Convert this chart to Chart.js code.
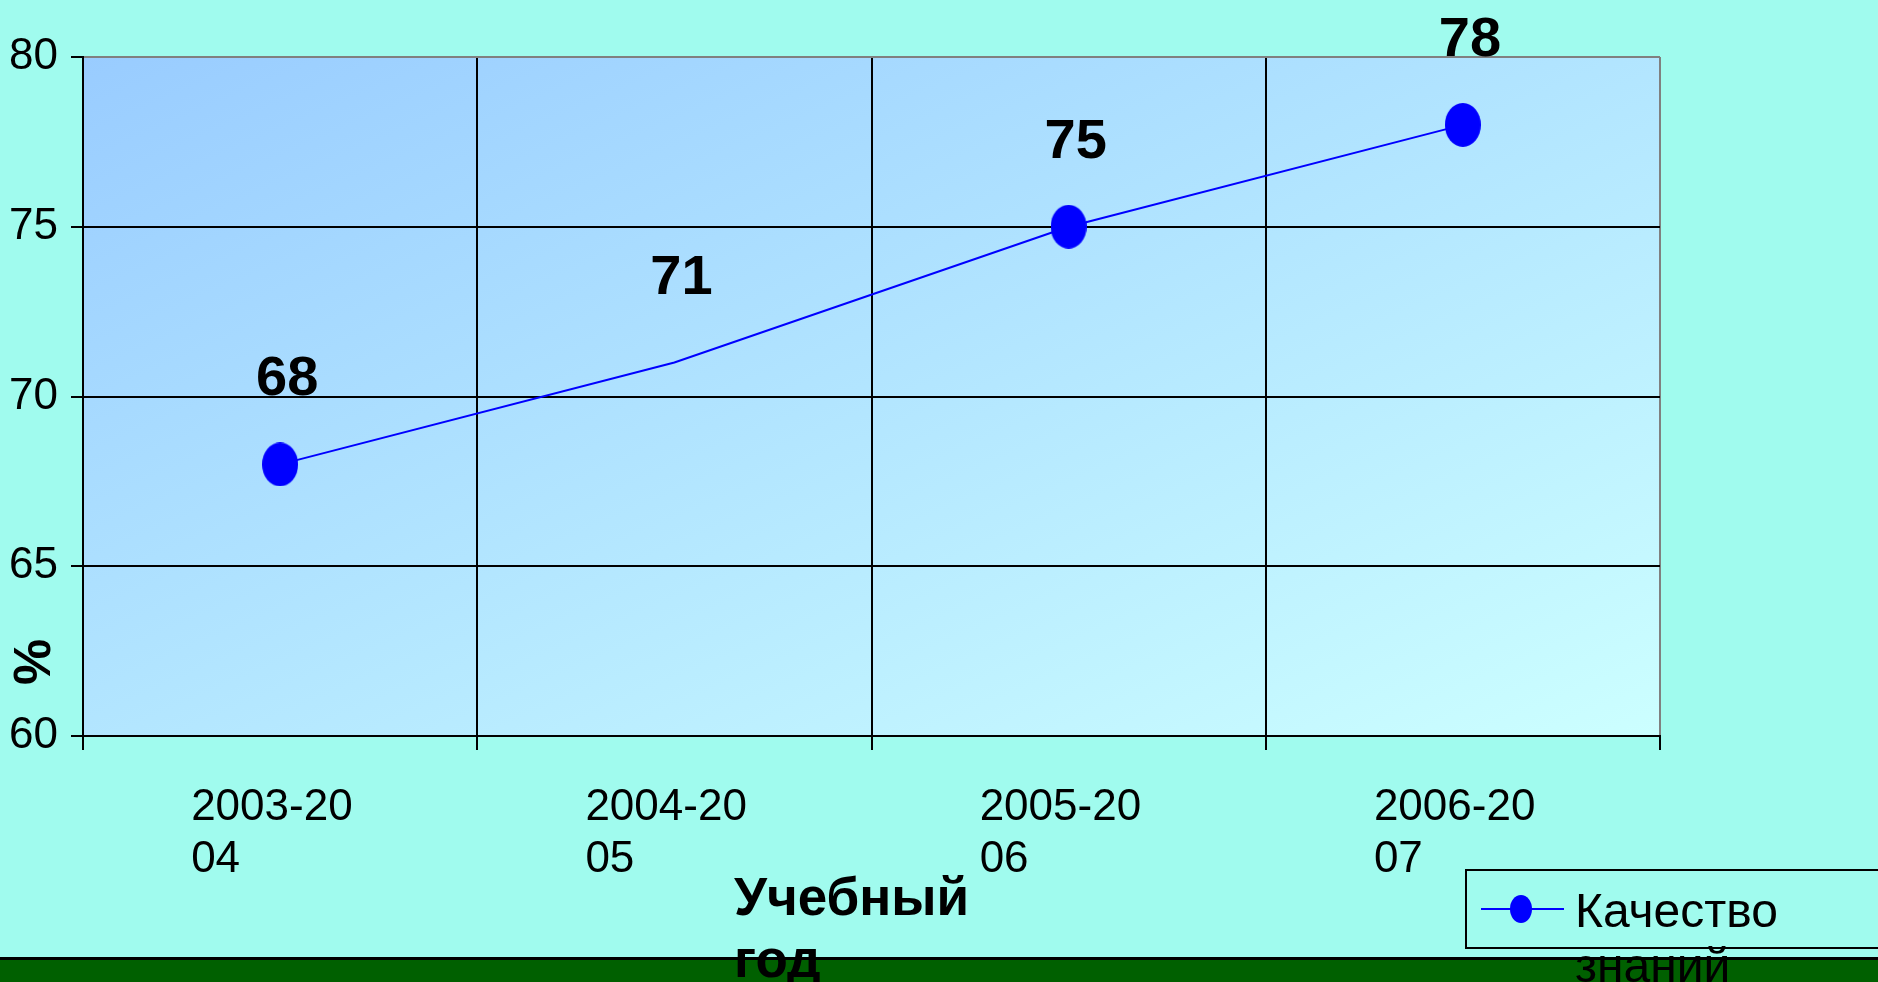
<!DOCTYPE html>
<html>
<head>
<meta charset="utf-8">
<script src="https://cdn.jsdelivr.net/npm/chart.js@4"></script>
<style>
  html, body { margin: 0; padding: 0; background: #a0fbee; }
  canvas { display: block; }
</style>
</head>
<body>
<canvas id="qualityChart" width="1878" height="982"></canvas>
<script>
// school years (split the way the original wraps them)
const years = [['2003-20', '04'], ['2004-20', '05'], ['2005-20', '06'], ['2006-20', '07']];
// knowledge quality, %
const quality = [68, 71, 75, 78];
// the 2004-2005 point has no marker in the original
const showMarker = [true, false, true, true];
const yTicks = [60, 65, 70, 75, 80];

const seriesName = ['Качество', 'знаний'];
const xTitle = ['Учебный', 'год'];
const yTitle = '%';

Chart.defaults.font.family = '"Liberation Sans", Arial, sans-serif';
Chart.defaults.color = '#000';

// blue ellipse used as the point marker
function ellipse(w, h) {
    const c = document.createElement('canvas');
    c.width = w;
    c.height = h;
    const g = c.getContext('2d');
    g.fillStyle = '#0000ff';
    g.beginPath();
    g.ellipse(w / 2, h / 2, w / 2, h / 2, 0, 0, Math.PI * 2);
    g.fill();
    return c;
}
const marker = ellipse(36, 44);

const decor = {
    id: 'decor',
    beforeDraw(chart) {
        const ctx = chart.ctx;
        const a = chart.chartArea;
        ctx.save();
        ctx.fillStyle = '#a0fbee';
        ctx.fillRect(0, 0, chart.width, chart.height);
        // green strip at the bottom of the slide
        ctx.fillStyle = '#000';
        ctx.fillRect(0, 957, chart.width, 3);
        ctx.fillStyle = '#006000';
        ctx.fillRect(0, 960, chart.width, chart.height - 960);
        // plot area fill, diagonal in box space (corner to corner)
        const w = a.right - a.left, h = a.bottom - a.top;
        const k = 2 * w * h / (w * w + h * h);
        const grad = ctx.createLinearGradient(a.left, a.top, a.left + h * k, a.top + w * k);
        grad.addColorStop(0, '#99ccff');
        grad.addColorStop(1, '#ccffff');
        ctx.fillStyle = grad;
        ctx.fillRect(a.left, a.top, w, h);
        ctx.restore();
    },
    afterDatasetsDraw(chart) {
        const ctx = chart.ctx;
        const pts = chart.getDatasetMeta(0).data;
        ctx.save();
        ctx.fillStyle = '#000';
        ctx.font = 'bold 56px "Liberation Sans", Arial, sans-serif';
        ctx.textAlign = 'center';
        ctx.textBaseline = 'alphabetic';
        pts.forEach((p, i) => {
            ctx.fillText(String(quality[i]), p.x + 7, p.y - 69);
        });
        ctx.restore();
    },
    afterDraw(chart) {
        const ctx = chart.ctx;
        ctx.save();
        ctx.fillStyle = '#000';

        // y title
        ctx.font = 'bold 52px "Liberation Sans", Arial, sans-serif';
        ctx.translate(36, 662);
        ctx.rotate(-Math.PI / 2);
        ctx.textAlign = 'center';
        ctx.textBaseline = 'middle';
        ctx.fillText(yTitle, 0, 0);
        ctx.setTransform(1, 0, 0, 1, 0, 0);

        // x title
        ctx.font = 'bold 53px "Liberation Sans", Arial, sans-serif';
        ctx.textAlign = 'left';
        ctx.textBaseline = 'alphabetic';
        xTitle.forEach((t, i) => ctx.fillText(t, 734, 915 + i * 62));

        // legend
        ctx.strokeStyle = '#000';
        ctx.lineWidth = 2;
        ctx.strokeRect(1466, 870, 500, 78);
        ctx.strokeStyle = '#0000ff';
        ctx.beginPath();
        ctx.moveTo(1481, 909);
        ctx.lineTo(1564, 909);
        ctx.stroke();
        ctx.fillStyle = '#0000ff';
        ctx.beginPath();
        ctx.ellipse(1521, 909, 11, 14, 0, 0, Math.PI * 2);
        ctx.fill();
        ctx.fillStyle = '#000';
        ctx.font = '48px "Liberation Sans", Arial, sans-serif';
        seriesName.forEach((t, i) => ctx.fillText(t, 1575, 927 + i * 55));
        ctx.restore();
    }
};

new Chart(document.getElementById('qualityChart').getContext('2d'), {
    type: 'line',
    data: {
        labels: years,
        datasets: [{
            label: seriesName.join(' '),
            data: quality,
            borderColor: '#0000ff',
            borderWidth: 2,
            tension: 0,
            pointStyle: marker,
            pointRadius: showMarker.map(s => s ? 18 : 0),
            pointHoverRadius: showMarker.map(s => s ? 18 : 0),
            pointBackgroundColor: '#0000ff'
        }]
    },
    options: {
        responsive: false,
        animation: false,
        events: [],
        layout: { padding: { left: 0, top: 57, right: 218, bottom: 0 } },
        plugins: {
            legend: { display: false },
            tooltip: { enabled: false }
        },
        scales: {
            x: {
                type: 'category',
                offset: true,
                grid: {
                    offset: true,
                    lineWidth: 2,
                    tickLength: 14,
                    color: c => (c.index === undefined || c.index >= years.length) ? '#808080' : '#000',
                    tickColor: '#000'
                },
                border: { color: '#000', width: 2 },
                ticks: {
                    font: { size: 44, lineHeight: 1.2 },
                    color: '#000',
                    align: 'start',
                    labelOffset: -89,
                    padding: 31,
                    maxRotation: 0,
                    autoSkip: false
                },
                afterFit: s => { s.height = 246; }
            },
            y: {
                min: yTicks[0],
                max: yTicks[yTicks.length - 1],
                afterBuildTicks: s => { s.ticks = yTicks.map(v => ({ value: v })); },
                grid: {
                    lineWidth: 2,
                    tickLength: 12,
                    color: c => (c.tick && c.tick.value === yTicks[yTicks.length - 1]) ? '#808080' : '#000',
                    tickColor: '#000'
                },
                border: { color: '#000', width: 2 },
                ticks: {
                    font: { size: 44 },
                    color: '#000',
                    padding: 13
                },
                afterFit: s => { s.width = 83; }
            }
        }
    },
    plugins: [decor]
});
</script>
</body>
</html>
